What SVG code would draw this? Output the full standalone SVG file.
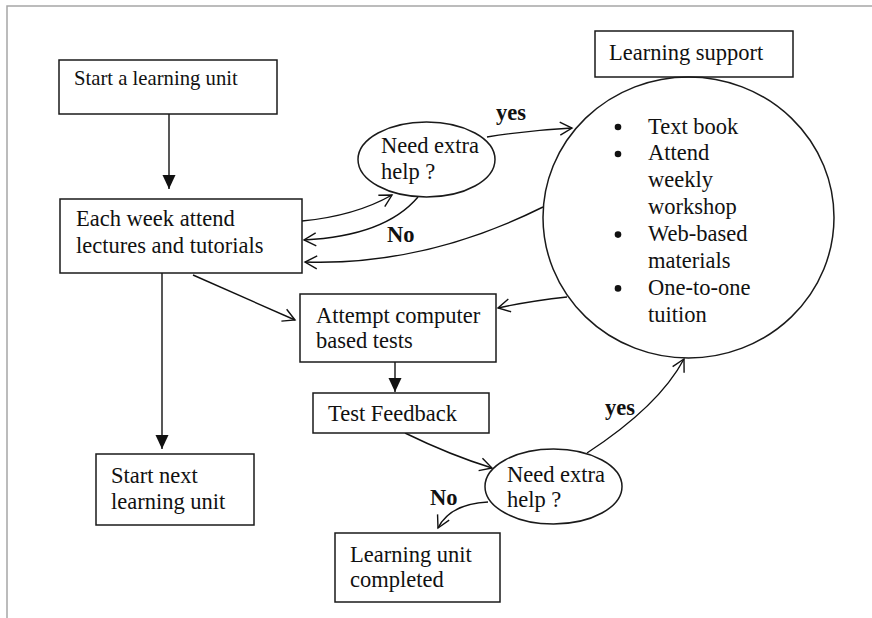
<svg xmlns="http://www.w3.org/2000/svg" width="872" height="618" viewBox="0 0 872 618">
  <style>
    .box { fill: #ffffff; stroke: #1a1a1a; stroke-width: 1.5; }
    .shape { fill: none; stroke: #1a1a1a; stroke-width: 1.5; }
    .t { font-family: "Liberation Serif", "Times New Roman", serif; font-size: 22.5px; fill: #111; }
    .small { font-size: 20.7px; }
    .b { font-weight: bold; }
    .link { fill: none; stroke: #111; stroke-width: 1.4; }
    .frame { fill: none; stroke: #a6a6a6; stroke-width: 1.5; }
  </style>
  <defs>
    <marker id="open" markerUnits="userSpaceOnUse" markerWidth="16" markerHeight="16" viewBox="-14 -8 16 16" refX="0" refY="0" orient="auto">
      <path d="M-12,-6.5 L0,0 L-12,6.5" fill="none" stroke="#111" stroke-width="1.4"/>
    </marker>
    <marker id="solid" markerUnits="userSpaceOnUse" markerWidth="18" markerHeight="16" viewBox="-15 -8 16 16" refX="0" refY="0" orient="auto">
      <path d="M-14,-6.5 L0,0 L-14,6.5 Z" fill="#111"/>
    </marker>
  </defs>

  <rect width="872" height="618" fill="#ffffff"/>
  <path class="frame" d="M7,618 V6 H872"/>

  <g id="connectors">
    <line class="link" x1="169" y1="114" x2="169" y2="189" marker-end="url(#solid)"/>
    <line class="link" x1="162" y1="273" x2="162" y2="449" marker-end="url(#solid)"/>
    <line class="link" x1="395" y1="362" x2="395" y2="392" marker-end="url(#solid)"/>
    <path class="link" d="M302,221 Q355,216 392,195" marker-end="url(#open)"/>
    <path class="link" d="M418,197 Q385,236 304,240" marker-end="url(#open)"/>
    <path class="link" d="M543,207 Q424,266 305,262" marker-end="url(#open)"/>
    <path class="link" d="M487,137 Q530,130 572,128" marker-end="url(#open)"/>
    <line class="link" x1="193" y1="275" x2="295" y2="320" marker-end="url(#open)"/>
    <path class="link" d="M567,297 Q530,301 498,308" marker-end="url(#open)"/>
    <path class="link" d="M405,433 Q450,455 492,468" marker-end="url(#open)"/>
    <path class="link" d="M587,453 Q659,406 684,359" marker-end="url(#open)"/>
    <path class="link" d="M488,502 Q450,504 438,528" marker-end="url(#open)"/>
    <text class="t b" x="496" y="120">yes</text>
    <text class="t b" x="387" y="242">No</text>
    <text class="t b" x="605" y="415">yes</text>
    <text class="t b" x="430" y="505">No</text>
  </g>

  <g id="start-unit">
    <rect class="box" x="59" y="60" width="218" height="54"/>
    <text class="t small" x="74" y="85">Start a learning unit</text>
  </g>

  <g id="weekly-classes">
    <rect class="box" x="60" y="199" width="242" height="74"/>
    <text class="t" x="76" y="226">Each week attend</text>
    <text class="t" x="76" y="253">lectures and tutorials</text>
  </g>

  <g id="need-help-1">
    <ellipse class="box" cx="426.5" cy="159.5" rx="68.5" ry="37.5"/>
    <text class="t" x="381" y="153">Need extra</text>
    <text class="t" x="381" y="179">help ?</text>
  </g>

  <g id="learning-support-title">
    <rect class="box" x="595" y="31" width="198" height="46"/>
    <text class="t" x="609" y="60">Learning support</text>
  </g>

  <g id="learning-support">
    <ellipse class="shape" cx="688.5" cy="217.5" rx="145.5" ry="140.5"/>
    <g fill="#111">
      <circle cx="618" cy="127" r="3.3"/>
      <circle cx="618" cy="154" r="3.3"/>
      <circle cx="618" cy="234.6" r="3.3"/>
      <circle cx="618" cy="288.4" r="3.3"/>
    </g>
    <text class="t" x="648" y="133.5">Text book</text>
    <text class="t" x="648" y="160.4">Attend</text>
    <text class="t" x="648" y="187.3">weekly</text>
    <text class="t" x="648" y="214.2">workshop</text>
    <text class="t" x="648" y="241.1">Web-based</text>
    <text class="t" x="648" y="268">materials</text>
    <text class="t" x="648" y="294.9">One-to-one</text>
    <text class="t" x="648" y="321.8">tuition</text>
  </g>

  <g id="computer-tests">
    <rect class="box" x="300" y="294" width="196" height="68"/>
    <text class="t" x="316" y="323">Attempt computer</text>
    <text class="t" x="316" y="348">based tests</text>
  </g>

  <g id="test-feedback">
    <rect class="box" x="313" y="393" width="176" height="40"/>
    <text class="t" x="328" y="421">Test Feedback</text>
  </g>

  <g id="need-help-2">
    <ellipse class="box" cx="553.5" cy="486.5" rx="68.5" ry="37.5"/>
    <text class="t" x="507" y="482">Need extra</text>
    <text class="t" x="507" y="507">help ?</text>
  </g>

  <g id="next-unit">
    <rect class="box" x="96" y="454" width="158" height="71"/>
    <text class="t" x="111" y="483">Start next</text>
    <text class="t" x="111" y="509">learning unit</text>
  </g>

  <g id="unit-completed">
    <rect class="box" x="335" y="533" width="165" height="69"/>
    <text class="t" x="350" y="562">Learning unit</text>
    <text class="t" x="350" y="587">completed</text>
  </g>
</svg>
